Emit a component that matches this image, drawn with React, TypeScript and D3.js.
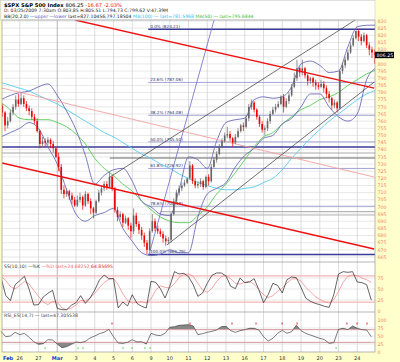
import * as d3 from "d3";

// one label per trading day, Feb 25 .. Mar 24 2009
const dayLabels = ["Feb", "26", "27", "Mar", "3", "4", "5", "6", "9", "10", "11", "12", "13", "16", "17", "18", "19", "20", "23", "24"];
const monthLabels = ["Feb", "Mar"];

// hourly candles, 7 per day
const firstOpen = 770.6;
const closes = [
  766, 757, 760, 766, 770, 775, 772,
  776, 772, 769, 767, 763, 760, 753,
  744, 746, 745, 747, 744, 741, 735,
  728, 712, 709, 711, 708, 705, 701,
  705, 707, 701, 709, 704, 699, 696,
  704, 710, 713, 716, 714, 721, 713,
  698, 693, 695, 689, 692, 687, 683,
  694, 688, 684, 680, 675, 670, 683,
  690, 685, 683, 681, 678, 676, 677,
  695, 704, 710, 713, 715, 717, 720,
  729, 718, 715, 716, 718, 714, 721,
  718, 728, 733, 737, 742, 746, 750,
  751, 748, 745, 749, 753, 757, 756,
  762, 770, 773, 768, 763, 758, 754,
  755, 760, 765, 768, 770, 772, 777,
  770, 774, 778, 784, 790, 797, 794,
  797, 792, 788, 790, 787, 785, 784,
  786, 783, 779, 776, 771, 773, 769,
  795, 799, 803, 808, 813, 818, 823,
  819, 816, 820, 813, 810, 808, 806.25,
];
const highs = [
  772, 767, 763, 768, 772, 778, 779,
  780, 778, 774, 771, 769, 765, 762,
  754, 749, 748, 749, 748, 746, 742,
  738, 730, 715, 713, 712, 710, 707,
  708, 710, 708, 711, 710, 706, 700,
  705, 712, 715, 718, 718, 724, 722,
  714, 700, 697, 696, 694, 693, 689,
  699, 696, 690, 686, 682, 677, 685,
  695, 692, 687, 685, 683, 680, 679,
  696, 706, 712, 715, 717, 719, 720,
  732, 730, 720, 718, 720, 719, 722,
  723, 730, 735, 739, 744, 748, 752,
  756, 753, 749, 751, 755, 758, 759,
  764, 772, 775, 774, 769, 764, 760,
  757, 762, 767, 770, 772, 774, 778,
  779, 776, 780, 786, 794, 803, 798,
  803, 798, 793, 791, 791, 789, 787,
  789, 788, 785, 781, 777, 775, 774,
  796, 801, 805, 810, 815, 820, 823.4,
  824, 821, 822, 821, 815, 812, 810,
];
const lows = [
  763, 753, 755, 759, 764, 768, 770,
  771, 770, 767, 764, 761, 758, 752,
  741, 742, 742, 743, 741, 738, 734,
  725, 709, 706, 707, 705, 702, 700,
  700, 703, 698, 700, 702, 695, 692,
  695, 703, 708, 711, 712, 713, 711,
  696, 690, 691, 686, 688, 684, 678,
  681, 686, 681, 677, 672, 666.8, 669,
  682, 683, 681, 679, 675, 673, 674,
  675, 694, 702, 708, 711, 714, 716,
  719, 716, 713, 713, 714, 712, 713,
  715, 717, 727, 731, 736, 741, 745,
  748, 746, 742, 744, 748, 752, 753,
  755, 760, 768, 766, 761, 756, 752,
  750, 753, 758, 764, 766, 769, 771,
  766, 769, 772, 777, 783, 788, 791,
  792, 790, 785, 786, 784, 782, 782,
  783, 780, 776, 773, 768, 769, 766,
  768, 793, 797, 802, 807, 812, 817,
  816, 813, 815, 811, 806, 804, 800,
];

// overlays read every half day
const bbUpper = [775, 778, 780, 781, 784, 786, 778, 767, 754, 736, 716, 722, 726, 727, 718, 704, 700, 695, 694, 712, 735, 733, 727, 746, 759, 761, 762, 775, 777, 776, 777, 784, 800, 802, 799, 794, 795, 812, 826, 827, 827.1];
const bbLower = [749, 752, 755, 759, 755, 742, 730, 712, 695, 690, 694, 696, 699, 685, 676, 668, 666, 667, 670, 668, 668, 693, 709, 713, 717, 728, 736, 741, 748, 750, 758, 762, 770, 779, 779, 770, 763, 760, 765, 789, 797.2];
const ma100 = [787, 785, 783, 781, 778, 775, 772, 768, 764, 760, 756, 752, 749, 745, 741, 737, 734, 730, 727, 723, 720, 717, 715, 713, 712, 712, 713, 714, 717, 720, 726, 734, 741, 748, 754, 760, 765, 770, 775, 779, 781.6];
const ma50 = [773, 768, 762, 761, 761, 761, 759, 756, 751, 744, 734, 727, 722, 716, 711, 704, 698, 693, 690, 689, 689, 694, 700, 709, 716, 724, 733, 742, 749, 752, 758, 763, 768, 771, 775, 777, 780, 785, 789, 793, 795.7];

// indicators read every quarter day
const stochK = [76.5, 35.6, 23.5, 59.8, 68.9, 78.8, 49.2, 13.6, 14.4, 31.8, 40.2, 47.0, 6.1, 3.0, 3.0, 12.9, 18.9, 34.8, 17.4, 29.5, 47.7, 70.5, 81.8, 73.5, 73.5, 6.8, 20.5, 11.4, 37.1, 17.4, 10.6, 6.8, 67.4, 65.2, 50.8, 29.5, 56.1, 89.4, 84.1, 85.6, 78.0, 59.8, 33.3, 40.9, 62.9, 81.1, 86.4, 86.4, 79.5, 56.1, 50.8, 75.0, 64.4, 65.9, 73.5, 48.5, 18.9, 37.1, 62.9, 58.3, 40.9, 71.2, 77.3, 75.8, 53.8, 29.5, 22.0, 17.4, 14.4, 10.6, 8.3, 37.1, 84.1, 89.4, 87.9, 89.4, 65.9, 64.4, 59.8, 24.7];
const stochD = [78.8, 69.7, 55.3, 50.0, 58.3, 67.4, 61.4, 47.0, 33.3, 20.5, 14.4, 22.0, 19.7, 6.8, 3.0, 6.8, 13.6, 24.2, 22.7, 29.5, 40.2, 53.0, 64.4, 72.0, 74.2, 59.8, 38.6, 23.5, 18.2, 19.7, 21.2, 18.2, 27.3, 47.7, 56.8, 53.8, 52.3, 62.1, 76.5, 83.3, 84.1, 78.8, 62.9, 47.7, 42.4, 51.5, 67.4, 78.0, 81.1, 73.5, 62.9, 61.4, 65.2, 67.4, 60.6, 48.5, 37.1, 30.3, 34.8, 44.7, 52.3, 63.6, 72.7, 73.5, 68.2, 53.8, 43.9, 33.3, 26.5, 21.2, 18.2, 25.8, 44.7, 65.2, 78.8, 81.8, 80.3, 75.0, 71.2, 64.9];
const rsi = [64.6, 47.9, 50.0, 61.5, 54.2, 58.3, 45.8, 32.3, 23.9, 26.0, 38.5, 37.5, 25.0, 13.5, 16.7, 23.9, 31.3, 29.2, 33.3, 43.8, 50.0, 57.3, 61.5, 70.8, 47.9, 28.1, 27.1, 30.2, 38.5, 31.3, 32.3, 25.0, 58.3, 53.1, 51.0, 58.3, 77.1, 79.2, 83.3, 84.4, 85.4, 81.3, 54.2, 57.3, 61.5, 64.6, 68.8, 79.2, 80.2, 66.7, 61.5, 66.7, 69.8, 74.0, 74.0, 68.8, 47.9, 34.4, 42.7, 58.3, 67.7, 58.3, 63.5, 83.3, 66.7, 58.3, 53.1, 47.9, 42.7, 38.5, 27.1, 29.2, 70.8, 74.0, 69.9, 81.3, 74.0, 69.9, 68.8, 47.3];
const rsiSellDays = [5.92, 10.08, 12.32, 13.6, 14.99, 15.79, 18.45, 18.99, 19.52];
const rsiBuyDays = [2.35, 4.11, 4.37, 6.51, 6.99, 7.68, 7.95, 17.87];

// fibonacci retracement, Mar 6 low to the 824.21 level
const fibPct = ["0.0%", "23.6%", "38.2%", "50.0%", "61.8%", "78.6%", "100.0%"];
const fibPrice = [824.21, 787.06, 764.08, 745.5, 726.92, 700.48, 666.79];
const fibFromDay = 7.85;

// trend lines: [day1, price1, day2, price2]
const redLines = [[3.95, 830.7, 19.9, 783.1], [0.05, 730.7, 19.9, 670.6]];
const pinkLines = [[0.05, 783.1, 19.9, 720.9]];
const blackLines = [[5.81, 720.9, 19.9, 839.2], [8.85, 673.4, 19.9, 787.3]];
const blueLines = [[7.89, 666.4, 11.36, 830.5]];

// horizontal support lines
const supportPrice = [741.9, 737.7, 734.2, 696.7, 694.4];
const supportFromDay = [0, 0, 5.8, 8.5, 8.5];

const priceTicks = d3.range(665, 831, 5);
const stochTicks = [0, 25, 50, 75];
const rsiTicks = [0, 25, 50, 75, 100];
const lastPrice = 806.25;

const FONT = "DejaVu Sans, Verdana, sans-serif";
const L = 2, R = 375;

export default function App() {
  const x = d3.scaleLinear().domain([0, 20]).range([1, 376]);
  const y = d3.scaleLinear().domain([661.5, 830.7]).range([262, 20]);
  const yS = d3.scaleLinear().domain([0, 100]).range([311, 267]);
  const yR = d3.scaleLinear().domain([0, 100]).range([352, 320]);

  const bars = closes.map((c, i) => ({
    t: Math.floor(i / 7) + ((i % 7) + 0.5) / 7,
    o: i === 0 ? firstOpen : closes[i - 1],
    h: highs[i],
    l: lows[i],
    c,
  }));

  const halfDay = d3
    .line<number>()
    .x((_, k) => x(k / 2))
    .y((v) => y(v))
    .curve(d3.curveMonotoneX);
  const quarter = (sc: d3.ScaleLinear<number, number>) =>
    d3.line<number>().x((_, j) => x(j / 4)).y((v) => sc(v));
  const rsiArea = (level: number) =>
    d3.area<number>().x((_, j) => x(j / 4)).y0(yR(level)).y1((v) => yR(v));

  const seg = (s: number[], key: string, stroke: string, w: number) => (
    <line key={key} x1={x(s[0])} y1={y(s[1])} x2={x(s[2])} y2={y(s[3])} stroke={stroke} strokeWidth={w} />
  );

  const days = d3.range(1, 20);
  // the last-price box hides the tick it sits on
  const shownTicks = priceTicks.filter((p) => Math.abs(p - lastPrice) > 2.5);

  return (
    <svg width={400} height={362} style={{ position: "absolute", left: 0, top: 0, background: "#fff" }} fontFamily={FONT}>
      <defs>
        <clipPath id="main"><rect x={L} y={20} width={R - L} height={242} /></clipPath>
        <clipPath id="sto"><rect x={L} y={262} width={R - L} height={50} /></clipPath>
        <clipPath id="rsiHi"><rect x={L} y={312} width={R - L} height={yR(70) - 312} /></clipPath>
        <clipPath id="rsiLo"><rect x={L} y={yR(30)} width={R - L} height={352 - yR(30)} /></clipPath>
      </defs>

      {/* backgrounds */}
      <rect x={0} y={0} width={400} height={362} fill="#fff" />
      <rect x={R} y={0} width={25} height={362} fill="#ffffcc" />
      <rect x={0} y={352} width={400} height={10} fill="#ffffcc" />
      <rect x={0} y={0} width={L} height={362} fill="#ffffcc" />

      {/* grid */}
      {priceTicks.map((p) => (
        <line key={"g" + p} x1={L} x2={R} y1={y(p)} y2={y(p)} stroke="#d9d9d9" strokeWidth={0.6} />
      ))}
      {[25, 50, 75].map((v) => (
        <line key={"gs" + v} x1={L} x2={R} y1={yS(v)} y2={yS(v)} stroke="#d9d9d9" strokeWidth={0.6} />
      ))}
      {[25, 50, 75].map((v) => (
        <line key={"gr" + v} x1={L} x2={R} y1={yR(v)} y2={yR(v)} stroke="#d9d9d9" strokeWidth={0.6} />
      ))}
      {days.map((d) => (
        <line key={"v" + d} x1={x(d)} x2={x(d)} y1={20} y2={352}
          stroke={monthLabels.includes(dayLabels[d]) ? "#999" : "#cfcfcf"} strokeWidth={0.7} />
      ))}

      {/* main panel */}
      <g clipPath="url(#main)">
        {fibPrice.map((p, i) => (
          <line key={"fib" + i} x1={x(fibFromDay)} x2={R} y1={y(p)} y2={y(p)}
            stroke={i === 0 || i === 6 ? "#3a3a99" : "#9a9ad0"} strokeWidth={i === 0 || i === 6 ? 1.6 : 0.9} />
        ))}
        {supportPrice.map((p, i) => (
          <line key={"sup" + i} x1={Math.max(L, x(supportFromDay[i]))} x2={R} y1={y(p)} y2={y(p)}
            stroke={["#3a3a99", "#aaaaaa", "#666666", "#b5b5b5", "#b5b5b5"][i]} strokeWidth={i === 0 ? 1.4 : 1.1} />
        ))}
        {fibPct.map((f, i) => (
          <text key={"fl" + i} x={x(fibFromDay) + 2} y={y(fibPrice[i]) - 1} fontSize={4.2} fill="#333366">
            {f} ({fibPrice[i].toFixed(2)})
          </text>
        ))}

        <path d={halfDay(ma100) ?? ""} fill="none" stroke="#55ccee" strokeWidth={0.9} />
        <path d={halfDay(ma50) ?? ""} fill="none" stroke="#55cc55" strokeWidth={0.9} />
        <path d={halfDay(bbUpper) ?? ""} fill="none" stroke="#6a6ab8" strokeWidth={0.9} />
        <path d={halfDay(bbLower) ?? ""} fill="none" stroke="#6a6ab8" strokeWidth={0.9} />

        {pinkLines.map((s, i) => seg(s, "pk" + i, "#f4a0a0", 0.9))}
        {blackLines.map((s, i) => seg(s, "bk" + i, "#333", 0.7))}
        {blueLines.map((s, i) => seg(s, "bl" + i, "#6a6ac8", 0.8))}

        {bars.map((b, i) => {
          const up = b.c >= b.o;
          const col = up ? "#666" : "#ee0000";
          const cx = x(b.t);
          return (
            <g key={"b" + i}>
              <line x1={cx} x2={cx} y1={y(b.h)} y2={y(b.l)} stroke={col} strokeWidth={0.7} />
              <rect x={cx - 0.8} width={1.6} y={y(Math.max(b.o, b.c))}
                height={Math.max(0.6, Math.abs(y(b.o) - y(b.c)))} fill={col} />
            </g>
          );
        })}

        {redLines.map((s, i) => seg(s, "rd" + i, "#ee1111", 1.4))}
      </g>

      {/* stochastic panel */}
      <line x1={L} x2={R} y1={yS(80)} y2={yS(80)} stroke="#f5b5b5" strokeWidth={1.2} />
      <line x1={L} x2={R} y1={yS(20)} y2={yS(20)} stroke="#f5b5b5" strokeWidth={1.2} />
      <g clipPath="url(#sto)">
        <path d={quarter(yS)(stochD) ?? ""} fill="none" stroke="#f08080" strokeWidth={0.7} />
        <path d={quarter(yS)(stochK) ?? ""} fill="none" stroke="#222" strokeWidth={0.7} />
      </g>
      <text x={4} y={268} fontSize={4.6}>
        <tspan fill="#444">SS(10,10) —%K </tspan>
        <tspan fill="#ee6666">—%D last=24.68252;</tspan>
        <tspan fill="#ee2222">64.85695</tspan>
      </text>

      {/* rsi panel */}
      <line x1={L} x2={R} y1={yR(70)} y2={yR(70)} stroke="#f5b5b5" strokeWidth={1.2} />
      <line x1={L} x2={R} y1={yR(30)} y2={yR(30)} stroke="#f5b5b5" strokeWidth={1.2} />
      <path d={rsiArea(70)(rsi) ?? ""} fill="#888" clipPath="url(#rsiHi)" />
      <path d={rsiArea(30)(rsi) ?? ""} fill="#888" clipPath="url(#rsiLo)" />
      <path d={quarter(yR)(rsi) ?? ""} fill="none" stroke="#444" strokeWidth={0.7} />
      {rsiSellDays.map((d, i) => (
        <rect key={"s" + i} x={x(d) - 0.5} y={322.5} width={1} height={2} fill="#ee2222" />
      ))}
      {rsiBuyDays.map((d, i) => (
        <rect key={"u" + i} x={x(d) - 0.6} y={347.5} width={1.2} height={1.2} fill="#22cc22" />
      ))}
      <text x={4} y={316.5} fontSize={4.6} fill="#444">RSI_ES(14,7) — last=47.305538</text>

      {/* frames */}
      <rect x={L} y={20} width={R - L} height={332} fill="none" stroke="#999" strokeWidth={0.7} />
      <line x1={L} x2={R} y1={262} y2={262} stroke="#999" strokeWidth={0.7} />
      <line x1={L} x2={R} y1={312} y2={312} stroke="#999" strokeWidth={0.7} />
      <rect x={0.5} y={0.5} width={R - 0.5} height={19.5} fill="none" stroke="#ccc" strokeWidth={0.6} />

      {/* header */}
      <text x={4} y={6.5} fontSize={5.2}>
        <tspan fill="#000" fontWeight="bold">$SPX S&amp;P 500 Index </tspan>
        <tspan fill="#000"> 806.25 </tspan>
        <tspan fill="#ee1111"> -16.67  -2.03%</tspan>
      </text>
      <text x={4} y={12} fontSize={4.6} fill="#222">
        D: 03/25/2009  7:30am  O:803.85  H:805.51  L:794.73  C:799.62  V:47.39M
      </text>
      <text x={4} y={17.5} fontSize={4.6}>
        <tspan fill="#222">BB(20,2.0) </tspan>
        <tspan fill="#5555bb">—upper —lower </tspan>
        <tspan fill="#222">last=827.10456;797.18504 </tspan>
        <tspan fill="#33bbee">MA(100) — last=781.5968 </tspan>
        <tspan fill="#33bb33">MA(50) — last=795.6844</tspan>
      </text>

      {/* right axis */}
      {shownTicks.map((p) => (
        <text key={"t" + p} x={377.5} y={y(p) + 1.7} fontSize={4.8} fill="#f08060">{p}</text>
      ))}
      <rect x={R} y={y(lastPrice) - 3.2} width={19} height={6.4} fill="#000" />
      <text x={376.5} y={y(lastPrice) + 1.7} fontSize={4.8} fill="#fff">{lastPrice.toFixed(2)}</text>
      {stochTicks.map((v) => (
        <text key={"ts" + v} x={377.5} y={yS(v) + 1.7} fontSize={4.8} fill="#f08060">{v}</text>
      ))}
      {rsiTicks.map((v) => (
        <text key={"tr" + v} x={377.5} y={yR(v) + 1.7} fontSize={4.8} fill="#f08060">{v}</text>
      ))}

      {/* date axis */}
      {dayLabels.map((lab, d) => (
        <text key={"d" + d} x={d === 0 ? 3 : x(d)} y={359.5} fontSize={5}
          textAnchor={d === 0 ? "start" : "middle"}
          fill={monthLabels.includes(lab) ? "#1133cc" : "#333"}
          fontWeight={monthLabels.includes(lab) ? "bold" : "normal"}>
          {lab}
        </text>
      ))}
    </svg>
  );
}
